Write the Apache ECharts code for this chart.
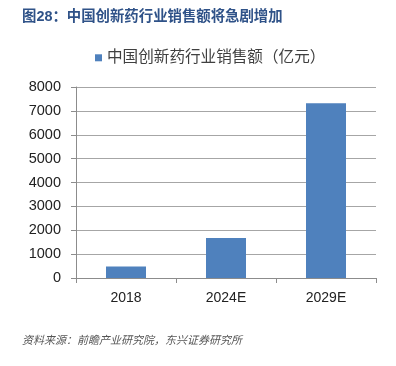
<!DOCTYPE html>
<html>
<head>
<meta charset="utf-8">
<script src="https://cdn.jsdelivr.net/npm/echarts@6/dist/echarts.min.js"></script>
<style>
  html, body { margin: 0; padding: 0; background: #fff; }
  #chart { width: 396px; height: 366px; }
</style>
</head>
<body>
<div id="chart"></div>
<script>
const categories = ['2018', '2024E', '2029E']
const salesValues = [480, 1680, 7320]
const seriesName = '中国创新药行业销售额（亿元）'
const titleText = '图28：中国创新药行业销售额将急剧增加'
const sourceText = '资料来源：前瞻产业研究院，东兴证券研究所'

const font = '"Liberation Sans", "Noto Sans CJK SC", sans-serif'

const chart = echarts.init(document.getElementById('chart'))
chart.setOption({
  animation: false,
  backgroundColor: '#fff',
  title: [
    {
      text: titleText,
      left: 17,
      top: 5,
      textStyle: { fontFamily: font, fontSize: 14.4, fontWeight: 'bold', color: '#2f5288' }
    },
    {
      text: sourceText,
      left: 17,
      top: 330,
      textStyle: { fontFamily: font, fontSize: 11, fontWeight: 'normal', fontStyle: 'italic', color: '#555' }
    }
  ],
  legend: {
    data: [seriesName],
    left: 90,
    top: 45,
    itemWidth: 7,
    itemHeight: 7,
    itemGap: 5,
    icon: 'rect',
    textStyle: { fontFamily: font, fontSize: 15.6, color: '#404040' }
  },
  grid: {
    left: 76,
    right: 20,
    top: 87,
    bottom: 88,
    containLabel: false
  },
  xAxis: {
    type: 'category',
    data: categories,
    axisLine: { lineStyle: { color: '#8c8c8c' } },
    axisTick: { show: true, length: 5, lineStyle: { color: '#8c8c8c' } },
    axisLabel: { fontFamily: font, fontSize: 14, color: '#222', margin: 13 }
  },
  yAxis: {
    type: 'value',
    min: 0,
    max: 8000,
    interval: 1000,
    axisLine: { show: true, lineStyle: { color: '#8c8c8c' } },
    axisTick: { show: true, length: 5, lineStyle: { color: '#8c8c8c' } },
    splitLine: { lineStyle: { color: '#a6a6a6' } },
    axisLabel: { fontFamily: font, fontSize: 14.5, color: '#222', margin: 15, formatter: (v) => String(v) }
  },
  series: [
    {
      name: seriesName,
      type: 'bar',
      data: salesValues,
      barWidth: '40%',
      itemStyle: { color: '#4f81bd' }
    }
  ]
})
</script>
</body>
</html>
